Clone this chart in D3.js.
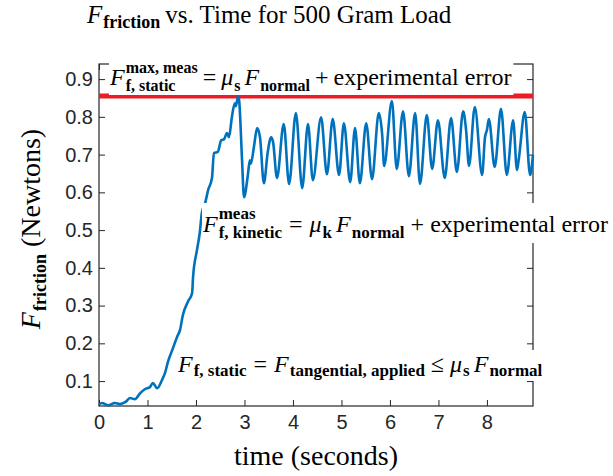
<!DOCTYPE html>
<html>
<head>
<meta charset="utf-8">
<script src="https://cdn.jsdelivr.net/npm/d3@7"></script>
<style>
  body { margin: 0; background: #fff; }
  svg { display: block; }
  text { fill: #000; }
  .tick text { fill: #262626; }
</style>
</head>
<body>
<svg id="chart"></svg>
<script>
const timeSec = [0, 0.06, 0.19, 0.33, 0.43, 0.54, 0.64, 0.74, 0.85, 0.95,
  1.05, 1.11, 1.20, 1.30, 1.36, 1.42, 1.51, 1.61, 1.67, 1.73,
  1.84, 1.92, 1.94, 2.02, 2.08, 2.12, 2.19, 2.25, 2.33, 2.37,
  2.45, 2.52, 2.58, 2.64, 2.68, 2.74, 2.80, 2.82, 2.87, 2.89,
  2.95, 2.99, 3.07, 3.11, 3.13, 3.20, 3.26, 3.32, 3.40, 3.48,
  3.55, 3.59, 3.67, 3.81, 3.92, 4.06, 4.19, 4.31, 4.41, 4.58,
  4.70, 4.82, 4.95, 5.05, 5.18, 5.28, 5.38, 5.51, 5.63, 5.77,
  5.84, 5.88, 6.04, 6.14, 6.27, 6.39, 6.52, 6.62, 6.76, 6.87,
  6.99, 7.13, 7.26, 7.38, 7.51, 7.57, 7.63, 7.75, 7.90, 7.96,
  8.00, 8.04, 8.16, 8.29, 8.41, 8.54, 8.62, 8.66, 8.78, 8.89, 8.95];
const forceN = [0.038, 0.042, 0.036, 0.042, 0.039, 0.044, 0.055, 0.052, 0.068, 0.079,
  0.084, 0.095, 0.081, 0.103, 0.121, 0.150, 0.182, 0.217, 0.235, 0.275,
  0.312, 0.333, 0.376, 0.447, 0.495, 0.545, 0.572, 0.606, 0.638, 0.704,
  0.707, 0.738, 0.741, 0.757, 0.746, 0.799, 0.836, 0.828, 0.855, 0.844,
  0.685, 0.587, 0.646, 0.685, 0.675, 0.725, 0.770, 0.746, 0.624, 0.707,
  0.746, 0.733, 0.638, 0.781, 0.622, 0.810, 0.611, 0.781, 0.632, 0.799,
  0.648, 0.794, 0.646, 0.783, 0.627, 0.770, 0.624, 0.783, 0.635, 0.810,
  0.752, 0.670, 0.842, 0.662, 0.815, 0.643, 0.810, 0.622, 0.805, 0.662,
  0.791, 0.638, 0.797, 0.654, 0.815, 0.765, 0.670, 0.826, 0.646, 0.746,
  0.765, 0.794, 0.667, 0.821, 0.646, 0.791, 0.659, 0.691, 0.813, 0.646, 0.699];

const xTicks = [0, 1, 2, 3, 4, 5, 6, 7, 8];
const yTicks = [0.1, 0.2, 0.3, 0.4, 0.5, 0.6, 0.7, 0.8, 0.9];
const xRange = [0, 8.95];
const yRange = [0.034, 0.94];
const staticMax = 0.855;   // red line, max static friction

const W = 613, H = 476;
const plot = {left: 99, top: 64, right: 533, bottom: 406};
const SERIF = "'Liberation Serif', 'Times New Roman', serif";
const SANS = "'Liberation Sans', Arial, sans-serif";

const svg = d3.select('#chart').attr('width', W).attr('height', H);

const x = d3.scaleLinear().domain(xRange).range([plot.left, plot.right]);
const y = d3.scaleLinear().domain(yRange).range([plot.bottom, plot.top]);

/* ---------- axes (ticks point inward, box all round) ---------- */
function styleAxis(g) {
  g.select('.domain').remove();
  g.selectAll('.tick line').attr('stroke', '#262626').attr('stroke-width', 1);
  g.selectAll('.tick text').attr('font-family', SANS).attr('font-size', 20);
}

svg.append('g')
  .attr('transform', `translate(0,${plot.bottom})`)
  .call(d3.axisBottom(x).tickValues(xTicks).tickSize(-6).tickPadding(9).tickFormat(d3.format('d')))
  .call(styleAxis);
svg.append('g')
  .attr('transform', `translate(0,${plot.top})`)
  .call(d3.axisTop(x).tickValues(xTicks).tickSize(-6).tickFormat(''))
  .call(styleAxis);
svg.append('g')
  .attr('transform', `translate(${plot.left},0)`)
  .call(d3.axisLeft(y).tickValues(yTicks).tickSize(-6).tickPadding(6).tickFormat(d3.format('.1f')))
  .call(styleAxis);
svg.append('g')
  .attr('transform', `translate(${plot.right},0)`)
  .call(d3.axisRight(y).tickValues(yTicks).tickSize(-6).tickFormat(''))
  .call(styleAxis);

svg.append('rect')
  .attr('x', plot.left).attr('y', plot.top)
  .attr('width', plot.right - plot.left).attr('height', plot.bottom - plot.top)
  .attr('fill', 'none').attr('stroke', '#262626').attr('stroke-width', 1.2);

/* ---------- red static limit, then the measured curve ---------- */
svg.append('line')
  .attr('x1', x(xRange[0])).attr('x2', x(xRange[1]))
  .attr('y1', y(staticMax)).attr('y2', y(staticMax))
  .attr('stroke', '#ed1c24').attr('stroke-width', 5);

const series = d3.zip(timeSec, forceN);
const line = d3.line().x(d => x(d[0])).y(d => y(d[1])).curve(d3.curveMonotoneX);
svg.append('path')
  .datum(series)
  .attr('d', line)
  .attr('fill', 'none')
  .attr('stroke', '#0072bd')
  .attr('stroke-width', 2.6)
  .attr('stroke-linejoin', 'round');

/* ---------- little math-text layout helper ---------- */
// parts: {i: italic}, {r: roman}, {gap: px}, {sub, sup} scripts (stacked if both)
function mathText(parent, parts, size, opt = {}) {
  const g = parent.append('g');
  const sm = Math.round(size * (opt.scale || 0.7));
  const subDy = opt.subDy != null ? opt.subDy : size * 0.2;
  const supDy = opt.supDy != null ? opt.supDy : -size * 0.45;
  let cx = 0;
  const put = (str, px, py, fs, style, weight) => g.append('text')
    .attr('x', px).attr('y', py)
    .attr('font-family', SERIF).attr('font-size', fs)
    .attr('font-style', style).attr('font-weight', weight)
    .text(str).node().getComputedTextLength();
  parts.forEach(p => {
    if (p.gap) { cx += p.gap; return; }
    if (p.i) cx += put(p.i, cx, 0, size, 'italic', 'normal');
    if (p.r) cx += put(p.r, cx, 0, size, 'normal', 'normal');
    if (p.sub || p.sup) {
      let w = 0;
      if (p.sup) w = Math.max(w, put(p.sup, cx + 1, supDy, sm, 'normal', 'bold'));
      if (p.sub) w = Math.max(w, put(p.sub, cx + 1, subDy, sm, 'normal', 'bold'));
      cx += w + 1;
    }
  });
  return {g, width: cx};
}

function withBox(m, tx, ty) {
  m.g.attr('transform', `translate(${tx},${ty})`);
  const b = m.g.node().getBBox();
  m.g.insert('rect', ':first-child')
    .attr('x', b.x).attr('y', b.y - 1)
    .attr('width', b.width + 2).attr('height', b.height + 2)
    .attr('fill', '#fff');
}

/* ---------- annotations ---------- */
const ann1 = mathText(svg, [
  {i: 'F'}, {sup: 'max, meas', sub: 'f, static'}, {gap: 5}, {r: '='}, {gap: 5},
  {i: 'μ'}, {sub: 's'}, {gap: 4}, {i: 'F'}, {sub: 'normal'}, {gap: 5},
  {r: '+'}, {gap: 5}, {r: 'experimental error'}
], 24, {supDy: -12, subDy: 6, scale: 0.67});
withBox(ann1, 110, 85);

const ann2 = mathText(svg, [
  {i: 'F'}, {sup: 'meas', sub: 'f, kinetic'}, {gap: 7}, {r: '='}, {gap: 7},
  {i: 'μ'}, {sub: 'k'}, {gap: 4}, {i: 'F'}, {sub: 'normal'}, {gap: 6},
  {r: '+'}, {gap: 6}, {r: 'experimental error'}
], 24, {supDy: -13, subDy: 6});
withBox(ann2, 203, 232);

const ann3 = mathText(svg, [
  {i: 'F'}, {sub: 'f, static'}, {gap: 7}, {r: '='}, {gap: 7},
  {i: 'F'}, {sub: 'tangential, applied'}, {gap: 6}, {r: '≤'}, {gap: 6},
  {i: 'μ'}, {sub: 's'}, {gap: 4}, {i: 'F'}, {sub: 'normal'}
], 24, {subDy: 4});
withBox(ann3, 178, 372);

/* ---------- title and axis labels ---------- */
const title = mathText(svg, [
  {i: 'F'}, {sub: 'friction'}, {gap: 5}, {r: 'vs. Time for 500 Gram Load'}
], 25, {subDy: 5, scale: 0.72});
title.g.attr('transform', 'translate(87,23)');

const xLab = mathText(svg, [{r: 'time (seconds)'}], 28);
xLab.g.attr('transform', `translate(${316 - xLab.width / 2},465)`);

const yLab = mathText(svg, [
  {i: 'F'}, {sub: 'friction'}, {gap: 7}, {r: '(Newtons)'}
], 28, {subDy: 6, scale: 0.66});
yLab.g.attr('transform', `translate(40,${229 + yLab.width / 2}) rotate(-90)`);
</script>
</body>
</html>
